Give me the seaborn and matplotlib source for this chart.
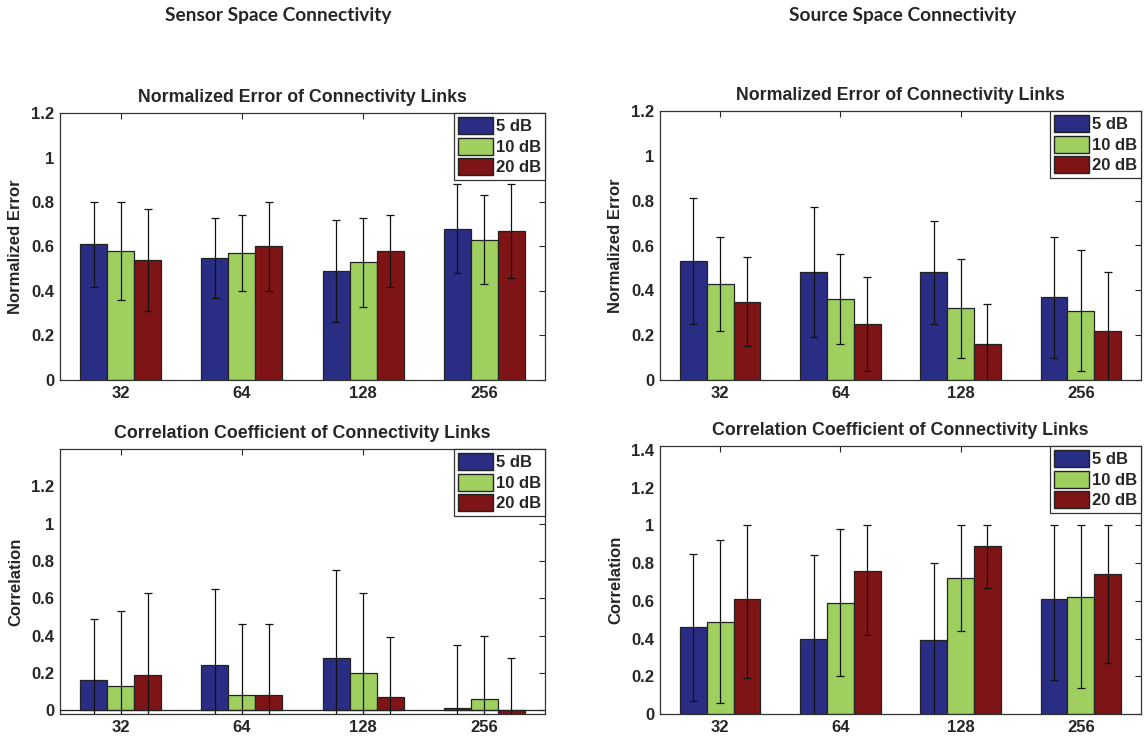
import matplotlib
matplotlib.use("Agg")
import os
import matplotlib.pyplot as plt
from matplotlib import font_manager as fm
import seaborn as sns
import pandas as pd
import numpy as np
from matplotlib.patches import Patch

sns.set_style("white")

bold_path = None
for f in fm.findSystemFonts():
    if os.path.basename(f).lower() == "liberationsans-bold.ttf":
        bold_path = f
        break
if bold_path:
    fm.fontManager.addfont(bold_path)
    BOLD = fm.FontProperties(fname=bold_path)
else:
    BOLD = fm.FontProperties(family="DejaVu Sans", weight="bold")
plt.rcParams['font.family'] = ['Liberation Sans', 'DejaVu Sans']


def bp(size):
    p = BOLD.copy()
    p.set_size(size)
    return p


channels = ["32", "64", "128", "256"]
snr_levels = ["5 dB", "10 dB", "20 dB"]
colors = ["#2a2d84", "#9fd05f", "#7f1416"]

# Sensor space - normalized error
sensor_err_mean = {"5 dB": [0.61, 0.55, 0.49, 0.68],
                   "10 dB": [0.58, 0.57, 0.53, 0.63],
                   "20 dB": [0.54, 0.60, 0.58, 0.67]}
sensor_err_hi = {"5 dB": [0.80, 0.73, 0.72, 0.88],
                 "10 dB": [0.80, 0.74, 0.73, 0.83],
                 "20 dB": [0.77, 0.80, 0.74, 0.88]}
sensor_err_lo = {"5 dB": [0.42, 0.37, 0.26, 0.48],
                 "10 dB": [0.36, 0.40, 0.33, 0.43],
                 "20 dB": [0.31, 0.40, 0.42, 0.46]}

# Source space - normalized error
source_err_mean = {"5 dB": [0.53, 0.48, 0.48, 0.37],
                   "10 dB": [0.43, 0.36, 0.32, 0.31],
                   "20 dB": [0.35, 0.25, 0.16, 0.22]}
source_err_hi = {"5 dB": [0.81, 0.77, 0.71, 0.64],
                 "10 dB": [0.64, 0.56, 0.54, 0.58],
                 "20 dB": [0.55, 0.46, 0.34, 0.48]}
source_err_lo = {"5 dB": [0.25, 0.19, 0.25, 0.10],
                 "10 dB": [0.22, 0.16, 0.10, 0.04],
                 "20 dB": [0.15, 0.04, -0.02, -0.04]}

# Sensor space - correlation
sensor_cor_mean = {"5 dB": [0.16, 0.24, 0.28, 0.01],
                   "10 dB": [0.13, 0.08, 0.20, 0.06],
                   "20 dB": [0.19, 0.08, 0.07, -0.02]}
sensor_cor_hi = {"5 dB": [0.49, 0.65, 0.75, 0.35],
                 "10 dB": [0.53, 0.46, 0.63, 0.40],
                 "20 dB": [0.63, 0.46, 0.39, 0.28]}
sensor_cor_lo = {"5 dB": [-0.17, -0.17, -0.19, -0.33],
                 "10 dB": [-0.27, -0.30, -0.23, -0.28],
                 "20 dB": [-0.25, -0.30, -0.25, -0.32]}

# Source space - correlation
source_cor_mean = {"5 dB": [0.46, 0.40, 0.39, 0.61],
                   "10 dB": [0.49, 0.59, 0.72, 0.62],
                   "20 dB": [0.61, 0.76, 0.89, 0.74]}
source_cor_hi = {"5 dB": [0.85, 0.84, 0.80, 1.00],
                 "10 dB": [0.92, 0.98, 1.00, 1.00],
                 "20 dB": [1.00, 1.00, 1.00, 1.00]}
source_cor_lo = {"5 dB": [0.07, -0.04, -0.02, 0.18],
                 "10 dB": [0.06, 0.20, 0.44, 0.14],
                 "20 dB": [0.19, 0.42, 0.67, 0.27]}

W, H = 1144, 741
fig = plt.figure(figsize=(W / 100, H / 100), dpi=100)


def px_axes(left, right, top, bottom):
    return fig.add_axes([left / W, 1 - bottom / H, (right - left) / W, (bottom - top) / H])


def panel(ax, mean, hi, lo, title, ylabel, ylim, yticks, baseline=False):
    rows = []
    for s in snr_levels:
        for c, v in zip(channels, mean[s]):
            rows.append({"channels": c, "snr": s, "value": v})
    df = pd.DataFrame(rows)
    sns.barplot(data=df, x="channels", y="value", hue="snr", order=channels,
                hue_order=snr_levels, palette=colors, errorbar=None,
                width=0.67, edgecolor="#222222", linewidth=0.9, saturation=1,
                ax=ax, legend=False)
    for cont, s in zip(ax.containers, snr_levels):
        xs = [p.get_x() + p.get_width() / 2 for p in cont.patches]
        m = np.array(mean[s])
        yerr = np.vstack([m - np.array(lo[s]), np.array(hi[s]) - m])
        ax.errorbar(xs, m, yerr=yerr, fmt="none", ecolor="#111111",
                    elinewidth=0.9, capsize=3, capthick=0.9, zorder=5)
    if baseline:
        ax.axhline(0, color="#222222", lw=0.9, zorder=4)
    ax.set_xlim(-0.5, 3.5)
    ax.set_ylim(*ylim)
    ax.set_yticks(yticks)
    ax.set_yticklabels([("%g" % t) for t in yticks], fontproperties=bp(12))
    ax.set_xticks(range(len(channels)))
    ax.set_xticklabels(channels, fontproperties=bp(12))
    ax.set_xlabel("")
    ax.set_ylabel(ylabel, fontproperties=bp(12), labelpad=6)
    ax.set_title(title, fontproperties=bp(12.8), pad=8)
    ax.tick_params(direction="in", top=True, right=True, length=4,
                   width=0.8, pad=4)
    for sp in ax.spines.values():
        sp.set_visible(True)
        sp.set_color("#333333")
        sp.set_linewidth(0.9)
    handles = [Patch(facecolor=c, edgecolor="#222222", label=s) for c, s in zip(colors, snr_levels)]
    leg = ax.legend(handles=handles, loc="upper right", bbox_to_anchor=(1.0, 1.0),
                    frameon=True, fancybox=False, framealpha=1, edgecolor="#333333",
                    prop=bp(12), handlelength=2.1,
                    handleheight=1.2, handletextpad=0.15, labelspacing=0.2,
                    borderpad=0.25, borderaxespad=0.0)
    leg.get_frame().set_linewidth(0.9)


ax1 = px_axes(60, 545, 113, 380)
panel(ax1, sensor_err_mean, sensor_err_hi, sensor_err_lo,
      "Normalized Error of Connectivity Links", "Normalized Error",
      (0, 1.2), [0, 0.2, 0.4, 0.6, 0.8, 1.0, 1.2])

ax2 = px_axes(660, 1141, 111, 380)
panel(ax2, source_err_mean, source_err_hi, source_err_lo,
      "Normalized Error of Connectivity Links", "Normalized Error",
      (0, 1.2), [0, 0.2, 0.4, 0.6, 0.8, 1.0, 1.2])

ax3 = px_axes(60, 545, 449, 714)
panel(ax3, sensor_cor_mean, sensor_cor_hi, sensor_cor_lo,
      "Correlation Coefficient of Connectivity Links", "Correlation",
      (-0.02, 1.4), [0, 0.2, 0.4, 0.6, 0.8, 1.0, 1.2], baseline=True)

ax4 = px_axes(660, 1141, 446, 714)
panel(ax4, source_cor_mean, source_cor_hi, source_cor_lo,
      "Correlation Coefficient of Connectivity Links", "Correlation",
      (0, 1.42), [0, 0.2, 0.4, 0.6, 0.8, 1.0, 1.2, 1.4])

fig.text(278 / W, 1 - 16 / H, "Sensor Space Connectivity", ha="center", va="center",
         fontsize=13.8, fontweight="bold", family=["Lato", "DejaVu Sans"])
fig.text(903 / W, 1 - 16 / H, "Source Space Connectivity", ha="center", va="center",
         fontsize=13.8, fontweight="bold", family=["Lato", "DejaVu Sans"])

fig.savefig("out.png", dpi=100, facecolor="white")
